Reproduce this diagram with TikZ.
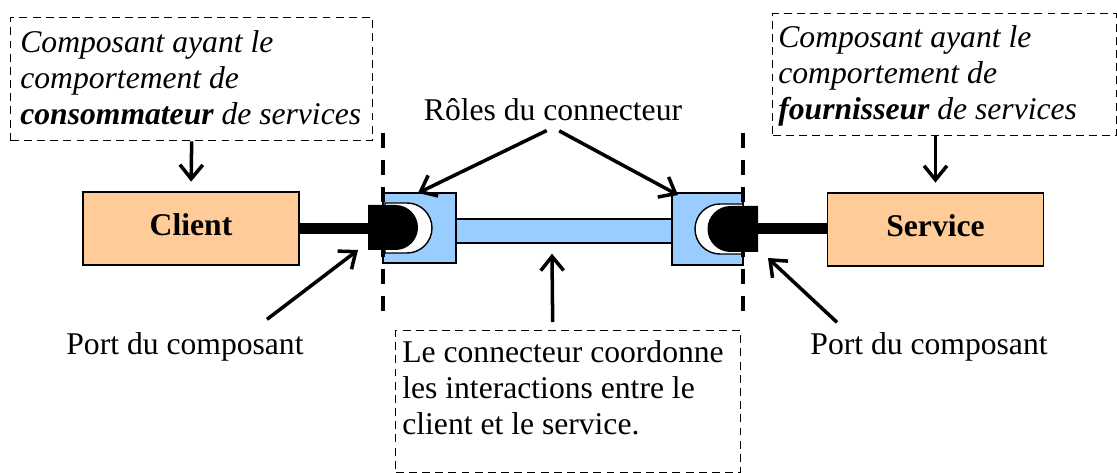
\documentclass[tikz,border=0pt]{standalone}
\usepackage{fontspec}
\setmainfont{Liberation Serif}
\usetikzlibrary{arrows.meta}

\newcommand{\diagfont}{\fontsize{18}{20.5}\selectfont}
\definecolor{compfill}{HTML}{FFCC99}
\definecolor{rolefill}{HTML}{99CCFF}

\tikzset{
	comp/.style={draw, fill=compfill, line width=0.8pt, minimum width=4.32cm, minimum height=1.46cm, text depth=4pt, font=\diagfont\bfseries},
	rolebox/.style={draw, fill=rolefill, line width=0.8pt, inner sep=0pt},
	noteframe/.style={draw, dash pattern=on 4.5pt off 3pt, line width=0.8pt, anchor=north west, inner sep=0pt},
	notetext/.style={anchor=north west, align=left, inner sep=0pt, font=\diagfont\itshape},
	arr/.style={-{Straight Barb[length=8pt,width=13pt]}, line width=2pt},
	boundary/.style={line width=2.3pt, dash pattern=on 8.5pt off 7pt},
	wire/.style={line width=6.5pt}
}

\begin{document}
\begin{tikzpicture}[x=0.02cm, y=-0.02cm, font=\diagfont]
	\useasboundingbox (0,0) rectangle (1117,473);
	
	% Draw the dashed note frames
	\node[noteframe, minimum width=7.24cm, minimum height=2.46cm] (consframe) at (10,17) {};
	\node[noteframe, minimum width=6.88cm, minimum height=2.44cm] (fournframe) at (772,13) {};
	\node[noteframe, minimum width=6.9cm, minimum height=2.84cm] (coordframe) at (395,330) {};
	
	% Write the notes
	\node[notetext] (constext) at (20,30) {Composant ayant le\\ comportement de\\ \textbf{consommateur} de services};
	\node[notetext] (fourntext) at (778,25) {Composant ayant le\\ comportement de\\ \textbf{fournisseur} de services};
	\node[notetext, font=\diagfont] (coordtext) at (402,340) {Le connecteur coordonne\\ les interactions entre le\\ client et le service.};
	
	% Draw the components
	\node[comp] (client) at (191,228.5) {Client};
	\node[comp] (service) at (935.5,229.5) {Service};
	
	% Draw the connector glue and its two roles
	\node[rolebox, minimum width=4.32cm, minimum height=0.48cm] (glue) at (564,231) {};
	\node[rolebox, minimum width=1.46cm, minimum height=1.4cm] (lrole) at (419.5,228) {};
	\node[rolebox, minimum width=1.42cm, minimum height=1.44cm] (rrole) at (707.5,229) {};
	
	% Draw the sockets and the plugs of the ports
	\draw[fill=white, line width=0.8pt] (385,203) -- (407,203) arc[start angle=-90, end angle=90, radius=25] -- (385,253) -- cycle;
	\fill (368,205) -- (395.5,205) arc[start angle=-90, end angle=90, radius=22.5] -- (368,250) -- cycle;
	\draw[fill=white, line width=0.8pt] (743,204) -- (720,204) arc[start angle=270, end angle=90, radius=25] -- (743,254) -- cycle;
	\fill (758,206) -- (730.5,206) arc[start angle=270, end angle=90, radius=23] -- (758,252) -- cycle;
	
	% Draw the wires from the components to the ports
	\coordinate (lport) at (368,228.5);
	\coordinate (rport) at (758,228.5);
	\draw[wire] (client.east) -- (lport);
	\draw[wire] (rport) -- (rport -| service.west);
	
	% Draw the connector boundaries
	\foreach \x in {383,743}
		\draw[boundary] (\x,133) -- (\x,316);
	
	% Draw the labels
	\node[anchor=base] (roles) at (553,121) {Rôles du connecteur};
	\node[anchor=base] (lportlbl) at (185,355) {Port du composant};
	\node[anchor=base] (rportlbl) at (929,355) {Port du composant};
	
	% Draw the arrows
	\coordinate (lroletip) at (418,193);
	\coordinate (rroletip) at (678,195);
	\coordinate (lporttip) at (358,250);
	\coordinate (rporttip) at (768,258);
	\draw[arr, shorten >=5.5pt] (consframe.south) -- (client.north);
	\draw[arr, shorten >=5.5pt] (fournframe.south -| service.north) -- (service.north);
	\draw[arr, shorten <=4pt] (roles.south) -- (lroletip);
	\draw[arr, shorten <=4pt] (roles.south) -- (rroletip);
	\draw[arr] ([xshift=1.64cm,yshift=0.15cm]lportlbl.north) -- (lporttip);
	\draw[arr] ([xshift=-1.84cm,yshift=0.09cm]rportlbl.north) -- (rporttip);
	\draw[arr] ([xshift=-0.31cm,yshift=0.16cm]coordframe.north) -- ([xshift=-0.24cm,yshift=-0.2cm]glue.south);
	
\end{tikzpicture}
\end{document}
